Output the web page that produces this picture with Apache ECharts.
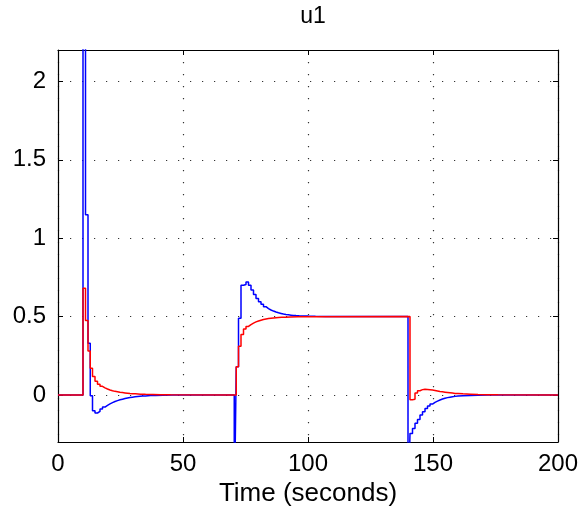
<!DOCTYPE html>
<html>
<head>
<meta charset="utf-8">
<script src="https://cdn.jsdelivr.net/npm/echarts@6/dist/echarts.min.js"></script>
<style>html,body{margin:0;padding:0;background:#fff;}#c{width:582px;height:515px;}</style>
</head>
<body>
<div id="c"></div>
<script>
var titleText = 'u1';
var xName = 'Time (seconds)';
var yTicks = [0, 0.5, 1, 1.5, 2];

var blueT = [0, 10, 11, 12, 12.9, 13.8, 14.8, 15.8, 16.8, 17.8, 18.8, 19.8, 20.8, 21.8, 22.8, 23.8, 24.8, 25.8, 26.8, 27.8, 28.8, 29.8, 30.8, 31.8, 32.8, 33.8, 35, 37, 39, 42, 46,
  70.5, 71.3, 72.2, 73.2, 74.2, 75.2, 76.2, 77.2, 78.2, 79.2, 80.2, 81.2, 82.2, 83.2, 84.2, 85.2, 86.2, 87.2, 88.2, 89.2, 90.2, 91.2, 92.2, 93.2, 94.2, 95.2, 96.5, 98, 100, 103, 107,
  140.0, 140.8, 141.8, 142.8, 143.8, 144.8, 145.8, 146.8, 147.8, 148.8, 149.8, 150.8, 151.8, 152.8, 153.8, 154.8, 155.8, 156.8, 157.8, 158.8, 160, 162, 165, 168, 172, 200];
var blueV = [0, 3.5, 1.15, 0.33, -0.005, -0.10, -0.115, -0.105, -0.09, -0.077, -0.066, -0.057, -0.049, -0.042, -0.036, -0.031, -0.027, -0.023, -0.019, -0.016, -0.014, -0.012, -0.010, -0.008, -0.007, -0.006, -0.004, -0.003, -0.002, -0.001, 0,
  -0.8, 0.18, 0.49, 0.70, 0.705, 0.72, 0.70, 0.67, 0.64, 0.615, 0.595, 0.578, 0.563, 0.551, 0.542, 0.535, 0.529, 0.524, 0.520, 0.516, 0.513, 0.511, 0.509, 0.507, 0.506, 0.505, 0.504, 0.503, 0.502, 0.501, 0.5,
  -0.8, -0.245, -0.214, -0.18, -0.156, -0.128, -0.107, -0.087, -0.071, -0.058, -0.047, -0.039, -0.032, -0.026, -0.021, -0.017, -0.014, -0.011, -0.009, -0.007, -0.005, -0.003, -0.002, -0.001, 0, 0];

var redT = [0, 10, 11, 12, 12.9, 13.8, 14.8, 15.8, 16.8, 17.8, 18.8, 19.8, 20.8, 21.8, 22.8, 23.8, 24.8, 25.8, 26.8, 27.8, 28.8, 29.8, 31, 33, 35, 38, 41, 45,
  71.3, 72.2, 73.2, 74.2, 75.2, 76.2, 77.2, 78.2, 79.2, 80.2, 81.2, 82.2, 83.2, 84.2, 85.2, 86.2, 87.2, 88.2, 89.5, 91, 93, 96, 100,
  140.8, 141.8, 142.8, 143.8, 144.8, 145.8, 146.8, 147.8, 148.8, 149.8, 150.8, 151.8, 152.8, 153.8, 154.8, 155.8, 156.8, 157.8, 158.8, 160, 162, 165, 168, 172, 176, 200];
var redV = [0, 0.68, 0.475, 0.28, 0.17, 0.117, 0.088, 0.068, 0.055, 0.045, 0.038, 0.032, 0.027, 0.023, 0.020, 0.017, 0.015, 0.013, 0.011, 0.009, 0.008, 0.007, 0.005, 0.004, 0.003, 0.002, 0.001, 0,
  0.18, 0.31, 0.385, 0.42, 0.437, 0.449, 0.458, 0.466, 0.472, 0.477, 0.481, 0.484, 0.487, 0.489, 0.491, 0.493, 0.494, 0.495, 0.496, 0.497, 0.498, 0.499, 0.5,
  -0.03, -0.028, 0.012, 0.027, 0.034, 0.036, 0.035, 0.033, 0.031, 0.028, 0.025, 0.022, 0.020, 0.018, 0.016, 0.014, 0.012, 0.010, 0.009, 0.007, 0.005, 0.003, 0.002, 0.001, 0, 0];

function pairs(t, v) { return t.map(function (x, i) { return [x, v[i]]; }); }

var FONT = 'Liberation Sans, Arial, sans-serif';
var dotted = { color: '#333', width: 1.2, type: [1.2, 10.8] };

var chart = echarts.init(document.getElementById('c'), null, { renderer: 'canvas' });
chart.setOption({
  animation: false,
  backgroundColor: '#fff',
  title: {
    text: titleText, left: 308, top: 0, textAlign: 'center',
    textStyle: { fontFamily: FONT, fontSize: 23, fontWeight: 'normal', color: '#000' }
  },
  grid: { left: 58, right: 24, top: 50, bottom: 73, containLabel: false },
  xAxis: [{
    type: 'value', min: 0, max: 200, interval: 50, position: 'bottom',
    axisLine: { show: true, onZero: false, lineStyle: { color: '#000', width: 1.2 } },
    axisTick: { show: true, inside: true, length: 5, lineStyle: { color: '#000' } },
    axisLabel: { fontFamily: FONT, fontSize: 24, color: '#000', margin: 10 },
    splitLine: { show: true, lineStyle: dotted },
    name: xName, nameLocation: 'middle', nameGap: 36,
    nameTextStyle: { fontFamily: FONT, fontSize: 26, color: '#000' }
  }, {
    type: 'value', min: 0, max: 200, interval: 50, position: 'top',
    axisLine: { show: true, onZero: false, lineStyle: { color: '#000', width: 1.2 } },
    axisTick: { show: true, inside: true, length: 5, lineStyle: { color: '#000' } },
    axisLabel: { show: false }, splitLine: { show: false }
  }],
  yAxis: [{
    type: 'value', min: -0.3, max: 2.2, position: 'left',
    axisLine: { show: true, onZero: false, lineStyle: { color: '#000', width: 1.2 } },
    axisTick: { show: true, inside: true, length: 5, lineStyle: { color: '#000' }, customValues: yTicks },
    axisLabel: { fontFamily: FONT, fontSize: 24, color: '#000', margin: 12, customValues: yTicks },
    splitLine: { show: true, lineStyle: dotted }
  }, {
    type: 'value', min: -0.3, max: 2.2, position: 'right',
    axisLine: { show: true, onZero: false, lineStyle: { color: '#000', width: 1.2 } },
    axisTick: { show: true, inside: true, length: 5, lineStyle: { color: '#000' }, customValues: yTicks },
    axisLabel: { show: false, customValues: yTicks }, splitLine: { show: false }
  }],
  series: [{
    type: 'line', step: 'end', data: pairs(blueT, blueV), showSymbol: false, clip: true,
    lineStyle: { color: '#0000ff', width: 1.5 }, xAxisIndex: 0, yAxisIndex: 0, z: 2
  }, {
    type: 'line', step: 'end', data: pairs(redT, redV), showSymbol: false, clip: true,
    lineStyle: { color: '#ff0000', width: 1.5 }, xAxisIndex: 0, yAxisIndex: 0, z: 3
  }]
});
</script>
</body>
</html>
